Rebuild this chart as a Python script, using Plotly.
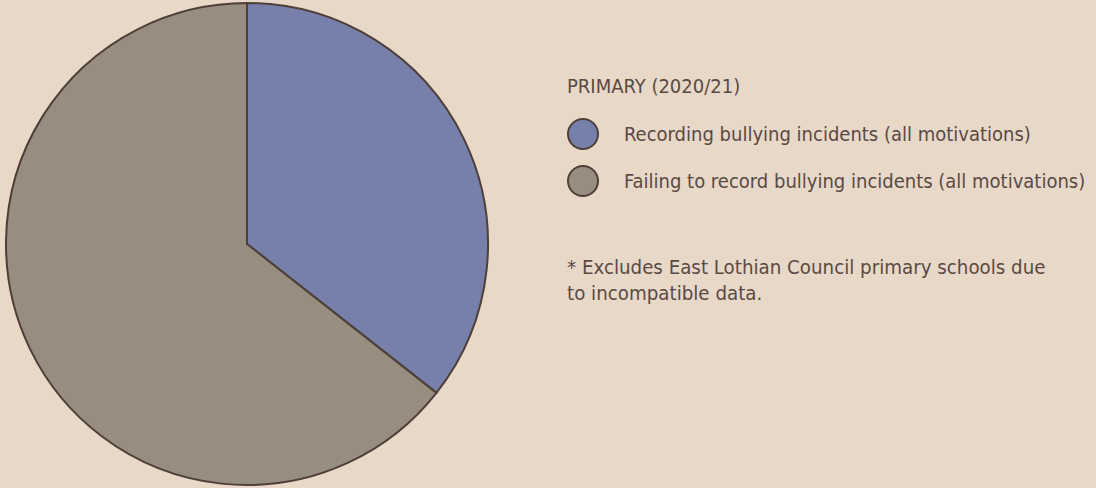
import plotly.graph_objects as go

categories = ["Recording bullying incidents (all motivations)",
              "Failing to record bullying incidents (all motivations)"]
values = [35.6, 64.4]
colors = ["#7780ab", "#978e80"]
title_text = "PRIMARY (2020/21)"
note_lines = ["* Excludes East Lothian Council primary schools due", "to incompatible data."]

W, H = 1096, 488
BG = "#e8d8c8"
EDGE = "#4e3f38"
TXT = "#5a4a44"
FONT = "DejaVu Sans Condensed, sans-serif"

fig = go.Figure()
fig.add_trace(go.Pie(
    labels=categories, values=values, sort=False, direction="clockwise", rotation=0,
    marker=dict(colors=colors, line=dict(color=EDGE, width=2)),
    textinfo="none", hoverinfo="label+percent", showlegend=False,
    domain=dict(x=[5/W, 489/W], y=[3/H, 485/H]),
))

def px_x(x): return x / W
def px_y(y): return 1 - y / H

annotations = [dict(x=px_x(565), y=px_y(86), text=title_text, showarrow=False,
                    xanchor="left", yanchor="middle", font=dict(family=FONT, size=20, color=TXT))]
shapes = []
for i, (lab, col) in enumerate(zip(categories, colors)):
    cy = 134 + i * 47
    shapes.append(dict(type="circle", xref="paper", yref="paper",
                       x0=px_x(568), x1=px_x(598), y0=px_y(cy + 15), y1=px_y(cy - 15),
                       fillcolor=col, line=dict(color=EDGE, width=2)))
    annotations.append(dict(x=px_x(622), y=px_y(cy), text=lab, showarrow=False,
                            xanchor="left", yanchor="middle", font=dict(family=FONT, size=20, color=TXT)))
for j, line in enumerate(note_lines):
    annotations.append(dict(x=px_x(565), y=px_y(267 + j * 26), text=line, showarrow=False,
                            xanchor="left", yanchor="middle", font=dict(family=FONT, size=20.3, color=TXT)))

fig.update_layout(width=W, height=H, paper_bgcolor=BG, plot_bgcolor=BG,
                  margin=dict(l=0, r=0, t=0, b=0), annotations=annotations, shapes=shapes)
fig.write_html("out.html", config={"displayModeBar": False})

with open("out.html", "r", encoding="utf-8") as f:
    html = f.read()
html = html.replace("<body>", '<body style="margin:0;padding:0;background:%s;overflow:hidden">' % BG, 1)
with open("out.html", "w", encoding="utf-8") as f:
    f.write(html)
